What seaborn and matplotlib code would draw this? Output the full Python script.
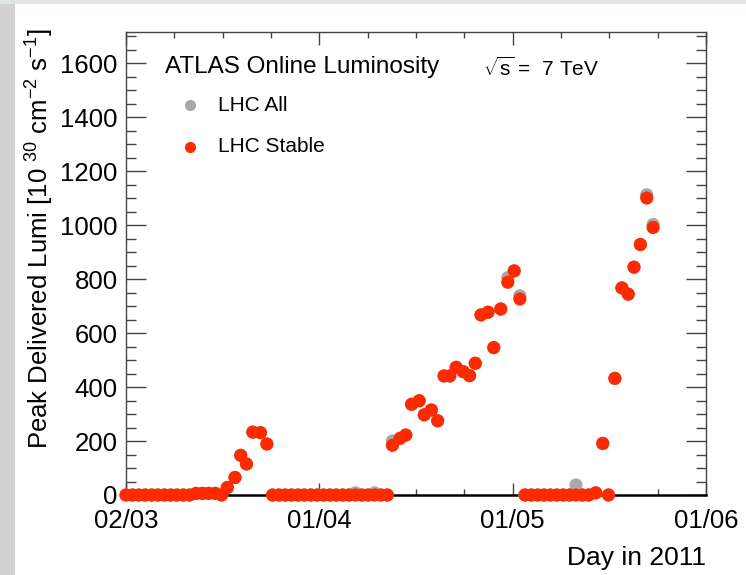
import numpy as np
import pandas as pd
import matplotlib
matplotlib.use("Agg")
import matplotlib.pyplot as plt
import seaborn as sns
from matplotlib.ticker import FixedLocator, MultipleLocator
from matplotlib.patches import Rectangle
from matplotlib.lines import Line2D

# ---------------- data (days since 02/03, peak lumi in 1e30 cm^-2 s^-1) -------------
stable_day = [0, 1, 2, 3, 4, 5, 6, 7, 8, 9, 10, 11, 12, 13, 14, 15,
              15.9, 17.1, 18.0, 18.9, 19.9, 21.1, 22.1,
              23, 24, 25, 26, 27, 28, 29, 30, 31, 32, 33, 34, 35, 36, 37, 38, 39, 40, 41,
              41.8, 43.0, 43.9, 44.8, 46.0, 46.8, 47.9, 48.9, 49.9, 50.8, 51.8, 52.9,
              53.9, 54.8, 55.7, 56.8, 57.7, 58.8, 59.9, 60.9, 61.8,
              62.6, 63.6, 64.6, 65.6, 66.6, 67.6, 68.6, 69.6, 70.6, 71.6, 72.6,
              73.7, 74.8, 75.7, 76.7, 77.8, 78.8, 79.7, 80.7, 81.7, 82.7]
stable_lumi = [0, 0, 0, 0, 0, 0, 0, 0, 0, 0, 0, 6, 6, 6, 6, 0,
               28, 65, 147, 115, 233, 231, 189,
               0, 0, 0, 0, 0, 0, 0, 0, 0, 0, 0, 0, 0, 0, 0, 0, 0, 0, 0,
               184, 210, 222, 336, 349, 297, 315, 275, 441, 441, 473, 457,
               442, 488, 667, 677, 546, 689, 788, 830, 726,
               0, 0, 0, 0, 0, 0, 0, 0, 0, 0, 0,
               8, 191, 0, 432, 767, 744, 844, 928, 1100, 991]
all_day = stable_day
all_lumi = [0, 0, 0, 0, 0, 0, 0, 0, 0, 0, 0, 6, 6, 6, 6, 0,
            28, 65, 147, 115, 233, 231, 189,
            0, 0, 0, 0, 0, 0, 0, 0, 0, 0, 0, 0, 0, 8, 0, 0, 8, 0, 0,
            200, 210, 222, 336, 349, 297, 315, 275, 441, 441, 473, 457,
            442, 488, 667, 677, 546, 689, 805, 830, 738,
            0, 0, 0, 0, 0, 0, 0, 0, 37, 0, 0,
            8, 191, 0, 432, 767, 744, 844, 928, 1112, 1002]
series_names = ["LHC All", "LHC Stable"]
series_colors = ["#a8a8a8", "#ff2a00"]
x_tick_labels = ["02/03", "01/04", "01/05", "01/06"]
y_ticks = [0, 200, 400, 600, 800, 1000, 1200, 1400, 1600]

df = pd.DataFrame({
    "day": list(all_day) + list(stable_day),
    "lumi": list(all_lumi) + list(stable_lumi),
    "series": [series_names[0]] * len(all_day) + [series_names[1]] * len(stable_day),
})

# ---------------- style -------------
sns.set_style("ticks")
plt.rcParams["font.family"] = ["Liberation Sans", "DejaVu Sans"]
plt.rcParams["mathtext.fontset"] = "custom"
plt.rcParams["mathtext.rm"] = "Liberation Sans"
plt.rcParams["mathtext.it"] = "Liberation Sans"
plt.rcParams["mathtext.sf"] = "Liberation Sans"
plt.rcParams["text.color"] = "black"

W, H = 746, 575
fig = plt.figure(figsize=(W / 100, H / 100), dpi=100)
fig.patch.set_facecolor("white")

def fx(x):
    return x / W

def fy(y):
    return 1 - y / H

# faint background strips
fig.patches.append(Rectangle((0, 0), fx(15), 1, transform=fig.transFigure,
                             facecolor="#d2d2d2", edgecolor="none", zorder=-5))
fig.patches.append(Rectangle((0, fy(4)), 1, 4 / H, transform=fig.transFigure,
                             facecolor="#dfe5df", edgecolor="none", zorder=-5))

L, R, T, B = 126, 706, 32, 495
ax = fig.add_axes([fx(L), fy(B), (R - L) / W, (B - T) / H])

sns.scatterplot(data=df, x="day", y="lumi", hue="series", hue_order=series_names,
                palette=series_colors, s=90, linewidth=0, legend=False, ax=ax, zorder=3)
for c in ax.collections:
    c.set_clip_on(False)

ax.set_xlim(0, 91)
ax.set_ylim(0, 1715)
major_x = [0, 91 / 3, 2 * 91 / 3, 91]
ax.xaxis.set_major_locator(FixedLocator(major_x))
ax.xaxis.set_minor_locator(MultipleLocator(91 / 12))
ax.set_xticklabels(x_tick_labels)
ax.yaxis.set_major_locator(FixedLocator(y_ticks))
ax.yaxis.set_minor_locator(MultipleLocator(50))

ax.tick_params(axis="x", which="major", direction="in", length=9, width=1.0,
               color="#444444", top=True, labelsize=18.5, pad=10, labelcolor="black")
ax.tick_params(axis="x", which="minor", direction="in", length=4.5, width=1.0,
               color="#444444", top=True)
ax.tick_params(axis="y", which="major", direction="in", length=14.5, width=1.0,
               color="#444444", right=True, labelsize=18.5, pad=6, labelcolor="black")
ax.tick_params(axis="y", which="minor", direction="in", length=7.2, width=1.0,
               color="#444444", right=True)
for s in ["left", "right", "top"]:
    ax.spines[s].set_color("#444444")
    ax.spines[s].set_linewidth(1.0)
ax.spines["bottom"].set_color("black")
ax.spines["bottom"].set_linewidth(1.8)
ax.set_xlabel("")
ax.set_ylabel("")

# texts
fig.text(fx(165), fy(67), "ATLAS Online Luminosity", fontsize=17.5, ha="left", va="center")
fig.text(fx(483), fy(68), r"$\sqrt{s}$ =  7 TeV", fontsize=15, ha="left", va="center")
for name, col, yy in zip(series_names, series_colors, [105, 147]):
    fig.add_artist(Line2D([fx(190)], [fy(yy)], marker="o", ls="", color=col,
                          markersize=7, transform=fig.transFigure))
    fig.text(fx(218), fy(yy), name, fontsize=15, ha="left", va="center")

fig.text(fx(40), fy(28), r"Peak Delivered Lumi [10 $^{30}$ cm$^{-2}$ s$^{-1}$]",
         fontsize=18.5, rotation=90, ha="center", va="top")
fig.text(fx(706), fy(558), "Day in 2011", fontsize=19, ha="right", va="center")

fig.savefig("out.png", dpi=100)
